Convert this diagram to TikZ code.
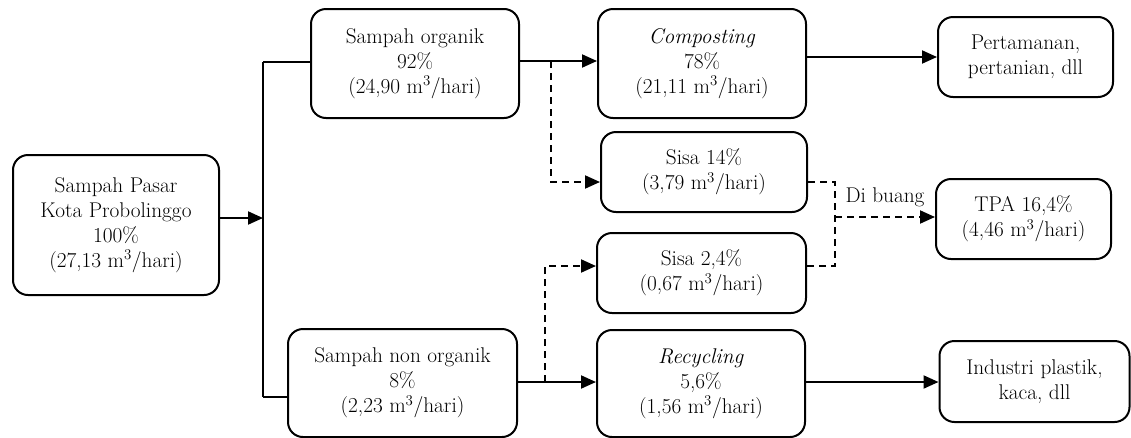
\documentclass[tikz,border=0pt]{standalone}
\usetikzlibrary{arrows.meta}
\begin{document}
\begin{tikzpicture}[x=1pt,y=-1pt,
  box/.style={draw,line width=2pt,rounded corners=15pt,align=center,inner sep=0pt,
    font=\fontsize{21.3}{25}\selectfont},
  ln/.style={line width=2pt},
  arr/.style={line width=2pt,-{Triangle[length=15pt,width=13pt]}},
  darr/.style={line width=2pt,dash pattern=on 7pt off 5pt,-{Triangle[length=15pt,width=13pt]}},
  dl/.style={line width=2pt,dash pattern=on 7pt off 5pt}]
\useasboundingbox (0,0) rectangle (1131,437);
\node[box,minimum width=206pt,minimum height=140pt] (src) at (116,225)
  {Sampah Pasar\\Kota Probolinggo\\100\%\\(27,13 m\textsuperscript{3}/hari)};
\node[box,minimum width=208pt,minimum height=109pt] (org) at (415,63.5)
  {Sampah organik\\92\%\\(24,90 m\textsuperscript{3}/hari)};
\node[box,minimum width=208pt,minimum height=109pt] (comp) at (702,63.5)
  {\textit{Composting}\\78\%\\(21,11 m\textsuperscript{3}/hari)};
\node[box,minimum width=175pt,minimum height=80pt] (per) at (1025.5,57)
  {Pertamanan,\\pertanian, dll};
\node[box,minimum width=206pt,minimum height=80pt] (s14) at (704,172)
  {Sisa 14\%\\(3,79 m\textsuperscript{3}/hari)};
\node[box,minimum width=209pt,minimum height=80pt] (s24) at (701.5,273)
  {Sisa 2,4\%\\(0,67 m\textsuperscript{3}/hari)};
\node[box,minimum width=175pt,minimum height=80pt] (tpa) at (1023.5,219)
  {TPA 16,4\%\\(4,46 m\textsuperscript{3}/hari)};
\node[box,minimum width=229pt,minimum height=108pt] (non) at (402.5,383)
  {Sampah non organik\\8\%\\(2,23 m\textsuperscript{3}/hari)};
\node[box,minimum width=208pt,minimum height=107pt] (rec) at (701,383.5)
  {\textit{Recycling}\\5,6\%\\(1,56 m\textsuperscript{3}/hari)};
\node[box,minimum width=190pt,minimum height=81pt] (ind) at (1034.5,381.5)
  {Industri plastik,\\kaca, dll};
% spine and junction coordinates
\coordinate (sp) at (263,218);
\coordinate (spt) at (263,62);
\coordinate (spb) at (263,397);
\coordinate (jo) at (551,61);
\coordinate (jn) at (545,382);
\coordinate (jr) at (835,182);
\coordinate (jr2) at (835,266);
\coordinate (jt) at (835,217);
% solid connectors
\draw[arr] (sp -| src.east) -- (sp);
\draw[ln] (spt) -- (spb);
\draw[ln] (spt) -- (spt -| org.west);
\draw[ln] (spb) -- (spb -| non.west);
\draw[arr] (jo -| org.east) -- (jo -| comp.west);
\draw[arr] (jn -| non.east) -- (jn -| rec.west);
\draw[arr] ([yshift=6.5pt]comp.east) -- ([yshift=6.5pt]comp.east -| per.west);
\draw[arr] (jn -| rec.east) -- (jn -| ind.west);
% dashed connectors
\draw[darr] (jo) -- (jo |- jr) -- (jr -| s14.west);
\draw[darr] (jn) -- (jn |- jr2) -- (jr2 -| s24.west);
\draw[dl] (jr -| s14.east) -- (jr) -- (jr2) -- (jr2 -| s24.east);
\draw[darr] (jt) -- (jt -| tpa.west);
\node[font=\fontsize{21.3}{25}\selectfont,inner sep=0pt] (db) at (885,197) {Di buang};
\end{tikzpicture}
\end{document}
